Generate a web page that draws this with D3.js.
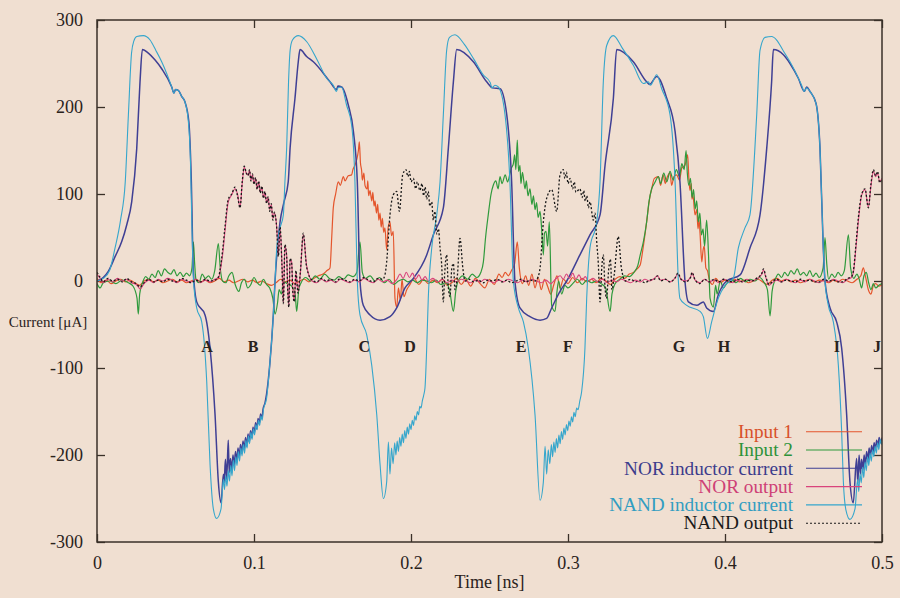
<!DOCTYPE html>
<html><head><meta charset="utf-8">
<script src="https://cdn.jsdelivr.net/npm/d3@7"></script>
<style>body{margin:0;background:#f0dfd1;}svg{display:block;}</style>
</head><body><div id="chart"></div>
<script>
// ---------- DATA (time in ns, current in µA) ----------
const xTicks = [0, 0.1, 0.2, 0.3, 0.4, 0.5];
const xTickLabels = ["0", "0.1", "0.2", "0.3", "0.4", "0.5"];
const yTicks = [-300, -200, -100, 0, 100, 200, 300];
const yTickLabels = ["-300", "-200", "-100", "0", "100", "200", "300"];
const seriesNames = ["Input 1", "Input 2", "NOR inductor current", "NOR output", "NAND inductor current", "NAND output"];
const eventLabels = ["A","B","C","D","E","F","G","H","I","J"];
const eventTimes = [0.0701,0.0994,0.1703,0.1994,0.2701,0.2999,0.3707,0.3994,0.4713,0.4968];
const eventLevel = -75;

const input1 = [[0,3],[0.003,-2],[0.006,1],[0.009,-3],[0.012,0],[0.015,2],[0.018,-1],[0.021,1],[0.024,-2],[0.027,-5],[0.03,0],[0.033,2],[0.036,-1],[0.039,1],[0.042,-2],[0.045,0],[0.048,2],[0.051,-1],[0.054,1],[0.057,-2],[0.06,0],[0.063,2],[0.066,-1],[0.069,1],[0.072,-2],[0.075,0],[0.078,3],[0.081,-1],[0.084,1],[0.087,-2],[0.09,0],[0.093,2],[0.096,-1],[0.099,1],[0.102,-2],[0.105,0],[0.108,-3],[0.111,-5],[0.114,-2],[0.117,2],[0.12,-1],[0.123,1],[0.126,-3],[0.129,0],[0.132,2],[0.135,-1],[0.138,3],[0.141,6],[0.144,8],[0.1465,12],[0.1484,15],[0.1495,50],[0.1505,84],[0.152,100],[0.1537,114],[0.155,110],[0.1569,120],[0.158,115],[0.16,121],[0.1622,122],[0.163,128],[0.1643,133],[0.1655,140],[0.1665,150],[0.1671,160],[0.1678,136],[0.1686,126],[0.169,116],[0.170,124],[0.1707,110],[0.172,106],[0.1725,115],[0.173,98],[0.1739,104],[0.175,92],[0.1757,102],[0.1765,86],[0.1771,92],[0.178,78],[0.1788,88],[0.1795,70],[0.1803,78],[0.181,62],[0.1818,72],[0.1826,56],[0.1834,61],[0.1845,36],[0.1855,62],[0.1866,68],[0.1876,52],[0.1887,57],[0.1898,-20],[0.1909,-30],[0.192,-8],[0.1932,-22],[0.1943,2],[0.1955,-18],[0.1973,-10],[0.199,-5],[0.202,3],[0.205,-4],[0.208,2],[0.211,-3],[0.214,1],[0.217,-2],[0.22,2],[0.223,-5],[0.226,-2],[0.229,3],[0.232,-4],[0.235,2],[0.238,-6],[0.241,3],[0.244,-3],[0.247,-8],[0.25,2],[0.253,-4],[0.256,8],[0.258,4],[0.26,10],[0.262,6],[0.264,12],[0.266,20],[0.2677,45],[0.269,15],[0.271,-3],[0.273,6],[0.275,-5],[0.277,8],[0.279,-8],[0.281,4],[0.283,-10],[0.285,2],[0.287,-6],[0.289,-15],[0.291,-4],[0.293,6],[0.295,-8],[0.297,2],[0.3,-3],[0.303,4],[0.306,-2],[0.309,3],[0.312,-1],[0.315,2],[0.318,-2],[0.321,3],[0.324,0],[0.327,-4],[0.330,2],[0.333,5],[0.336,3],[0.339,8],[0.342,10],[0.344,14],[0.3459,18],[0.348,40],[0.3501,68],[0.352,95],[0.3533,106],[0.355,118],[0.3576,120],[0.359,110],[0.3605,122],[0.362,112],[0.3629,118],[0.365,124],[0.366,110],[0.3675,120],[0.3692,122],[0.371,116],[0.3725,130],[0.3745,133],[0.3762,145],[0.377,118],[0.3777,104],[0.3785,112],[0.379,94],[0.3795,100],[0.3809,76],[0.382,82],[0.3828,60],[0.3835,70],[0.3841,55],[0.3852,22],[0.386,35],[0.3868,40],[0.3878,15],[0.3888,12],[0.390,2],[0.392,-4],[0.394,3],[0.397,-2],[0.40,1],[0.403,-2],[0.406,2],[0.409,-1],[0.412,1],[0.415,-2],[0.418,0],[0.421,2],[0.424,-1],[0.427,-4],[0.430,1],[0.433,3],[0.436,0],[0.439,2],[0.442,-1],[0.445,1],[0.448,-2],[0.451,0],[0.454,2],[0.457,-1],[0.46,1],[0.463,0],[0.466,-2],[0.469,1],[0.472,-1],[0.475,2],[0.478,0],[0.481,-2],[0.484,2],[0.4865,6],[0.4881,15],[0.4895,5],[0.4913,-10],[0.493,-15],[0.4945,-5],[0.496,-3],[0.498,-6],[0.5,-4]];

const input2 = [[0,-3],[0.002,-8],[0.004,-2],[0.008,0],[0.012,-3],[0.016,1],[0.02,-2],[0.023,-6],[0.0255,-20],[0.0263,-38],[0.0272,-15],[0.029,-2],[0.031,5],[0.033,2],[0.035,8],[0.037,4],[0.039,12],[0.041,6],[0.043,14],[0.045,10],[0.047,8],[0.049,13],[0.051,6],[0.053,10],[0.055,5],[0.057,9],[0.059,6],[0.0605,15],[0.0614,45],[0.0622,20],[0.063,2],[0.065,-2],[0.067,8],[0.069,3],[0.071,6],[0.073,2],[0.075,12],[0.0773,43],[0.0785,15],[0.080,0],[0.082,-2],[0.084,6],[0.086,10],[0.088,-4],[0.0904,-12],[0.092,-2],[0.094,2],[0.096,-8],[0.098,-4],[0.100,4],[0.102,-2],[0.104,-5],[0.106,2],[0.108,-4],[0.110,-8],[0.112,-20],[0.1134,-38],[0.115,-25],[0.116,-10],[0.1175,-15],[0.1187,0],[0.121,-3],[0.124,-6],[0.1262,-15],[0.1272,-35],[0.1285,-10],[0.130,-2],[0.133,4],[0.136,0],[0.139,6],[0.142,2],[0.145,8],[0.148,3],[0.151,1],[0.154,5],[0.157,2],[0.160,7],[0.163,5],[0.1655,10],[0.1675,45],[0.169,10],[0.171,3],[0.174,6],[0.177,0],[0.180,4],[0.183,-2],[0.186,2],[0.189,-4],[0.192,0],[0.195,2],[0.198,-1],[0.201,1],[0.204,-2],[0.207,1],[0.21,0],[0.213,-2],[0.216,1],[0.219,-4],[0.222,-2],[0.2245,-10],[0.227,-35],[0.2285,-12],[0.230,0],[0.233,6],[0.236,2],[0.239,8],[0.242,4],[0.2445,10],[0.2461,22],[0.2475,50],[0.2492,76],[0.251,100],[0.2524,110],[0.254,115],[0.2555,106],[0.2567,120],[0.258,112],[0.26,122],[0.2615,114],[0.2631,124],[0.264,130],[0.2652,135],[0.266,145],[0.2668,128],[0.2677,162],[0.2685,126],[0.2694,133],[0.270,112],[0.271,125],[0.2726,106],[0.2735,115],[0.2745,98],[0.2758,106],[0.277,88],[0.278,98],[0.279,82],[0.280,90],[0.281,73],[0.2822,80],[0.2832,60],[0.2843,30],[0.285,55],[0.286,57],[0.287,40],[0.2881,68],[0.2896,-28],[0.2917,-35],[0.293,-12],[0.294,0],[0.296,-15],[0.298,-5],[0.300,-8],[0.303,-3],[0.306,2],[0.309,-4],[0.312,1],[0.315,-2],[0.318,0],[0.321,-3],[0.324,-8],[0.3268,-35],[0.328,-15],[0.330,-3],[0.333,2],[0.336,6],[0.339,5],[0.342,10],[0.3445,18],[0.346,30],[0.348,45],[0.3501,68],[0.3515,90],[0.3533,106],[0.355,112],[0.3576,120],[0.359,112],[0.361,124],[0.3629,114],[0.365,126],[0.367,116],[0.369,128],[0.371,120],[0.3725,135],[0.374,128],[0.3752,150],[0.376,124],[0.377,110],[0.378,118],[0.379,96],[0.380,105],[0.381,83],[0.382,92],[0.383,68],[0.384,78],[0.385,53],[0.386,60],[0.387,40],[0.3883,70],[0.3895,30],[0.3905,-20],[0.3926,-30],[0.394,-5],[0.395,-15],[0.397,0],[0.399,-8],[0.401,-3],[0.404,2],[0.407,-2],[0.41,3],[0.413,-1],[0.416,2],[0.419,0],[0.422,4],[0.425,-2],[0.427,-10],[0.4287,-40],[0.430,-12],[0.432,2],[0.434,8],[0.436,4],[0.438,10],[0.440,6],[0.442,12],[0.444,8],[0.446,14],[0.448,7],[0.450,10],[0.452,6],[0.454,12],[0.456,5],[0.458,9],[0.46,4],[0.4625,15],[0.4637,50],[0.4648,20],[0.466,2],[0.468,8],[0.470,4],[0.472,10],[0.474,6],[0.476,12],[0.4786,53],[0.480,15],[0.482,3],[0.484,8],[0.4855,2],[0.487,-8],[0.4885,6],[0.490,10],[0.4915,-2],[0.493,-10],[0.4945,-3],[0.496,-8],[0.498,-5],[0.5,-3]];

const norInductor = [[0,0],[0.004,4],[0.0072,11],[0.0115,28],[0.0157,45],[0.019,65],[0.0221,91],[0.0253,152],[0.0274,229],[0.0289,266],[0.0327,262],[0.037,254],[0.0412,244],[0.0476,223],[0.049,216],[0.050,220],[0.0518,219],[0.054,212],[0.056,206],[0.0585,183],[0.06,120],[0.0614,10],[0.0635,-24],[0.0688,-39],[0.072,-77],[0.0752,-154],[0.0773,-231],[0.079,-255],[0.0805,-222],[0.081,-232],[0.0818,-205],[0.0826,-228],[0.0836,-183],[0.0842,-220],[0.085,-204],[0.0858,-218],[0.0866,-200],[0.0874,-212],[0.0882,-196],[0.089,-208],[0.0898,-192],[0.0906,-203],[0.0914,-188],[0.0922,-198],[0.093,-184],[0.0938,-194],[0.0946,-180],[0.0954,-190],[0.0962,-176],[0.097,-185],[0.0978,-172],[0.0986,-180],[0.0994,-168],[0.1002,-175],[0.101,-163],[0.1018,-170],[0.1026,-158],[0.1034,-164],[0.1042,-153],[0.105,-158],[0.1058,-147],[0.107,-140],[0.108,-130],[0.110,-97],[0.1123,-39],[0.1134,0],[0.1155,50],[0.1166,68],[0.119,90],[0.1218,114],[0.123,153],[0.1261,210],[0.1282,252],[0.1293,266],[0.1335,258],[0.1378,252],[0.1484,229],[0.1525,220],[0.1535,224],[0.1558,223],[0.1601,202],[0.1633,172],[0.1658,114],[0.1675,0],[0.1696,-28],[0.1739,-39],[0.1803,-45],[0.1866,-41],[0.1909,-31],[0.1962,-8],[0.2015,3],[0.21,30],[0.2142,53],[0.2206,84],[0.2238,153],[0.227,229],[0.2291,266],[0.2397,252],[0.2482,229],[0.252,222],[0.2567,221],[0.261,191],[0.2641,114],[0.2662,0],[0.2694,-31],[0.2758,-41],[0.2822,-45],[0.2864,-43],[0.2896,-31],[0.2949,-12],[0.2992,0],[0.3076,30],[0.314,53],[0.3204,76],[0.3236,133],[0.3289,210],[0.331,266],[0.3416,252],[0.3501,229],[0.352,226],[0.3565,235],[0.3629,210],[0.3682,172],[0.3713,114],[0.3745,0],[0.3767,-24],[0.382,-28],[0.3862,-24],[0.3883,-31],[0.3926,-35],[0.3957,-16],[0.401,0],[0.4096,7],[0.4159,38],[0.4223,76],[0.4266,153],[0.4297,229],[0.4308,266],[0.4372,260],[0.4414,250],[0.4467,233],[0.4505,218],[0.452,223],[0.4541,218],[0.458,204],[0.4605,153],[0.4626,38],[0.4637,0],[0.4669,-31],[0.4711,-47],[0.4743,-77],[0.4775,-154],[0.4796,-231],[0.4817,-255],[0.4838,-204],[0.4846,-232],[0.4854,-200],[0.4862,-222],[0.487,-205],[0.4878,-218],[0.4886,-200],[0.4894,-212],[0.4902,-196],[0.491,-207],[0.4918,-192],[0.4926,-202],[0.4934,-189],[0.4942,-198],[0.495,-186],[0.4958,-194],[0.4966,-183],[0.4974,-190],[0.4982,-180],[0.499,-186],[0.5,-180]];

const norOutput = [[0,8],[0.002,3],[0.004,-2],[0.007,2],[0.010,-1],[0.013,3],[0.016,0],[0.019,2],[0.022,-2],[0.025,-4],[0.0275,-9],[0.030,-3],[0.033,1],[0.036,-2],[0.039,2],[0.042,0],[0.045,3],[0.048,1],[0.051,-2],[0.054,2],[0.057,0],[0.060,-1],[0.063,2],[0.066,-2],[0.069,1],[0.072,-1],[0.075,2],[0.0775,4],[0.0783,10],[0.0800,30],[0.0815,57],[0.0836,91],[0.0858,99],[0.0879,106],[0.0895,100],[0.0911,85],[0.0925,112],[0.0938,131],[0.095,124],[0.0962,122],[0.0972,127],[0.098,116],[0.099,122],[0.1,112],[0.101,118],[0.102,106],[0.103,114],[0.104,102],[0.105,108],[0.106,96],[0.107,102],[0.108,90],[0.109,96],[0.110,82],[0.111,88],[0.112,72],[0.113,78],[0.1145,61],[0.1155,30],[0.1166,61],[0.1178,20],[0.1187,-24],[0.1197,40],[0.1208,30],[0.1215,-10],[0.1222,-28],[0.123,25],[0.124,22],[0.1247,-10],[0.1257,-22],[0.1267,10],[0.128,-12],[0.1295,8],[0.1314,53],[0.1335,18],[0.137,0],[0.140,-2],[0.143,2],[0.146,-1],[0.149,1],[0.152,-2],[0.155,2],[0.158,0],[0.161,-2],[0.164,1],[0.167,-1],[0.170,3],[0.173,0],[0.176,-2],[0.179,2],[0.182,-1],[0.185,1],[0.188,-3],[0.191,2],[0.193,8],[0.195,3],[0.197,10],[0.199,4],[0.201,9],[0.203,2],[0.205,7],[0.207,1],[0.209,5],[0.211,0],[0.214,3],[0.217,-1],[0.22,2],[0.223,-2],[0.226,1],[0.229,-1],[0.232,2],[0.235,0],[0.238,-2],[0.241,1],[0.244,-1],[0.247,2],[0.25,0],[0.253,-2],[0.256,1],[0.259,-1],[0.262,2],[0.265,0],[0.268,-2],[0.271,1],[0.274,-1],[0.277,2],[0.28,0],[0.283,-2],[0.286,1],[0.289,-3],[0.292,2],[0.295,6],[0.297,2],[0.299,8],[0.301,3],[0.303,9],[0.305,2],[0.307,7],[0.309,1],[0.311,5],[0.313,0],[0.316,3],[0.319,-1],[0.322,2],[0.325,-2],[0.328,1],[0.331,-1],[0.334,2],[0.337,0],[0.34,-2],[0.343,1],[0.346,-1],[0.349,2],[0.352,0],[0.355,3],[0.357,6],[0.359,1],[0.362,2],[0.365,-1],[0.368,3],[0.37,8],[0.372,2],[0.375,0],[0.378,4],[0.379,9],[0.381,1],[0.384,-2],[0.387,2],[0.39,-1],[0.393,1],[0.396,-2],[0.399,2],[0.402,0],[0.405,-2],[0.408,1],[0.411,-1],[0.414,2],[0.417,0],[0.42,2],[0.4235,8],[0.4245,13],[0.426,4],[0.428,-5],[0.430,-2],[0.433,1],[0.436,-1],[0.439,2],[0.442,0],[0.445,-2],[0.448,1],[0.451,-1],[0.454,2],[0.457,0],[0.46,-2],[0.463,1],[0.466,-1],[0.469,2],[0.472,0],[0.475,-2],[0.478,2],[0.4805,4],[0.4818,10],[0.4835,40],[0.4849,68],[0.4871,99],[0.4892,105],[0.4913,85],[0.493,110],[0.4945,126],[0.496,120],[0.4972,124],[0.4985,114],[0.5,118]];

const nandInductor = [[0,0],[0.004,3],[0.008,12],[0.0115,38],[0.015,70],[0.018,114],[0.020,191],[0.022,262],[0.0235,276],[0.0253,281],[0.0295,282],[0.0338,277],[0.0375,265],[0.0412,252],[0.0445,238],[0.0476,223],[0.049,216],[0.050,220],[0.0518,219],[0.054,212],[0.056,206],[0.0582,183],[0.0595,140],[0.0603,76],[0.0614,3],[0.0635,-31],[0.0667,-47],[0.0685,-75],[0.0699,-116],[0.072,-211],[0.0741,-262],[0.0762,-273],[0.079,-262],[0.0805,-228],[0.0812,-240],[0.082,-224],[0.0828,-236],[0.0836,-218],[0.0844,-230],[0.0852,-212],[0.086,-224],[0.0868,-206],[0.0876,-218],[0.0884,-202],[0.0892,-212],[0.090,-196],[0.0908,-207],[0.0916,-192],[0.0924,-201],[0.0932,-188],[0.094,-198],[0.0948,-183],[0.0956,-192],[0.0964,-178],[0.0972,-187],[0.098,-174],[0.0988,-182],[0.0996,-170],[0.1004,-177],[0.1012,-165],[0.102,-171],[0.1028,-160],[0.1036,-166],[0.1044,-155],[0.1052,-160],[0.106,-148],[0.108,-135],[0.110,-97],[0.1123,-39],[0.1134,0],[0.1145,38],[0.1166,61],[0.1187,76],[0.1197,114],[0.1208,153],[0.122,229],[0.123,265],[0.1245,277],[0.1282,282],[0.1336,275],[0.14,255],[0.1463,233],[0.1505,225],[0.1525,218],[0.1535,222],[0.1558,223],[0.159,202],[0.1622,179],[0.1643,114],[0.1658,0],[0.1675,-39],[0.1718,-62],[0.175,-97],[0.1782,-154],[0.1803,-211],[0.1824,-250],[0.1845,-231],[0.1856,-185],[0.1866,-222],[0.1876,-192],[0.1886,-210],[0.1896,-186],[0.1904,-200],[0.1912,-184],[0.192,-196],[0.1928,-180],[0.1936,-190],[0.1944,-176],[0.1952,-186],[0.196,-172],[0.1968,-181],[0.1976,-168],[0.1984,-176],[0.1992,-164],[0.2,-171],[0.2008,-160],[0.2016,-166],[0.2024,-155],[0.2032,-160],[0.204,-150],[0.2048,-154],[0.2056,-144],[0.2064,-146],[0.2072,-138],[0.208,-132],[0.2089,-123],[0.21,-77],[0.211,-20],[0.2132,38],[0.2164,76],[0.2185,114],[0.2206,191],[0.2227,265],[0.2245,280],[0.228,283],[0.234,272],[0.240,255],[0.246,237],[0.2505,228],[0.2515,222],[0.2535,225],[0.2556,223],[0.2599,191],[0.263,114],[0.2652,0],[0.2684,-31],[0.2716,-47],[0.2747,-77],[0.279,-154],[0.2822,-252],[0.2843,-231],[0.2854,-190],[0.2864,-222],[0.2874,-194],[0.2884,-210],[0.2894,-188],[0.2902,-202],[0.291,-185],[0.2918,-197],[0.2926,-181],[0.2934,-192],[0.2942,-177],[0.295,-187],[0.2958,-173],[0.2966,-182],[0.2974,-169],[0.2982,-177],[0.299,-165],[0.2998,-172],[0.3006,-161],[0.3014,-167],[0.3022,-156],[0.303,-162],[0.3038,-151],[0.3046,-156],[0.3055,-146],[0.3064,-148],[0.3075,-138],[0.3087,-127],[0.3108,-77],[0.3119,-20],[0.314,38],[0.3183,68],[0.3204,114],[0.3225,229],[0.3247,271],[0.3289,282],[0.3345,268],[0.3416,248],[0.348,227],[0.3512,229],[0.3525,225],[0.3565,237],[0.3597,221],[0.365,191],[0.3682,114],[0.3703,0],[0.3713,-20],[0.3756,-28],[0.3841,-35],[0.3862,-41],[0.3888,-66],[0.3915,-47],[0.3957,-20],[0.40,-5],[0.4053,3],[0.4085,38],[0.4127,61],[0.4159,76],[0.4202,191],[0.4223,265],[0.4255,280],[0.4297,281],[0.4329,277],[0.437,265],[0.4414,252],[0.4488,225],[0.4505,218],[0.452,222],[0.4541,218],[0.458,204],[0.4605,153],[0.4626,38],[0.4637,0],[0.4658,-28],[0.469,-47],[0.4722,-97],[0.4743,-173],[0.4754,-231],[0.477,-263],[0.4796,-274],[0.4828,-262],[0.4845,-228],[0.4852,-242],[0.486,-222],[0.4868,-232],[0.4876,-214],[0.4884,-226],[0.4892,-208],[0.49,-218],[0.4908,-202],[0.4916,-212],[0.4924,-198],[0.4932,-207],[0.494,-194],[0.4948,-202],[0.4956,-190],[0.4964,-198],[0.4972,-186],[0.498,-194],[0.4988,-182],[0.4996,-188],[0.5,-183]];

const nandOutput = [[0,10],[0.002,4],[0.004,-1],[0.007,3],[0.010,0],[0.013,2],[0.016,-1],[0.019,3],[0.022,-1],[0.025,-3],[0.0275,-7],[0.030,-2],[0.033,2],[0.036,-1],[0.039,1],[0.042,-1],[0.045,2],[0.048,0],[0.051,-1],[0.054,3],[0.057,1],[0.060,-2],[0.063,1],[0.066,-1],[0.069,2],[0.072,0],[0.075,1],[0.0775,5],[0.0783,12],[0.0800,35],[0.0815,62],[0.0836,94],[0.0858,100],[0.0879,108],[0.0895,98],[0.0911,84],[0.0925,114],[0.0938,132],[0.095,125],[0.0962,121],[0.0972,128],[0.098,115],[0.099,123],[0.1,111],[0.101,119],[0.102,105],[0.103,115],[0.104,101],[0.105,109],[0.106,95],[0.107,103],[0.108,89],[0.109,97],[0.110,80],[0.111,89],[0.112,70],[0.113,79],[0.1145,60],[0.1155,28],[0.1166,62],[0.1178,18],[0.1187,-26],[0.1197,42],[0.1208,28],[0.1215,-12],[0.1222,-30],[0.123,26],[0.124,20],[0.1247,-12],[0.1257,-24],[0.1267,12],[0.128,-14],[0.1295,10],[0.1314,55],[0.1335,16],[0.137,1],[0.140,-1],[0.143,3],[0.146,0],[0.149,2],[0.152,-1],[0.155,3],[0.158,1],[0.161,-1],[0.164,2],[0.167,0],[0.170,4],[0.173,1],[0.176,-1],[0.179,3],[0.182,2],[0.1835,8],[0.1845,22],[0.1866,76],[0.1887,99],[0.1909,103],[0.1926,80],[0.1947,122],[0.1968,128],[0.198,120],[0.199,126],[0.2,114],[0.2015,118],[0.203,106],[0.204,114],[0.2057,104],[0.207,112],[0.208,98],[0.209,108],[0.21,94],[0.211,103],[0.212,86],[0.2132,91],[0.2142,70],[0.2152,80],[0.2164,54],[0.2175,60],[0.2185,38],[0.2195,20],[0.2206,-24],[0.2215,10],[0.2227,30],[0.2237,-5],[0.2248,-18],[0.226,15],[0.227,20],[0.228,-10],[0.2295,5],[0.2312,49],[0.233,15],[0.2344,0],[0.237,2],[0.240,-1],[0.243,1],[0.246,-2],[0.249,1],[0.252,0],[0.255,2],[0.258,-1],[0.261,1],[0.264,-2],[0.267,0],[0.27,2],[0.273,-1],[0.276,1],[0.279,0],[0.281,5],[0.2822,15],[0.2843,68],[0.2864,95],[0.2896,105],[0.2928,80],[0.2949,122],[0.297,128],[0.298,118],[0.299,125],[0.3,112],[0.3013,118],[0.303,106],[0.304,114],[0.305,102],[0.3076,106],[0.309,96],[0.31,104],[0.311,92],[0.312,98],[0.313,84],[0.314,91],[0.3161,70],[0.3172,78],[0.3183,45],[0.3193,20],[0.3204,-24],[0.3215,15],[0.3225,30],[0.3235,-5],[0.3245,-20],[0.326,15],[0.327,25],[0.328,-10],[0.3295,8],[0.332,51],[0.334,15],[0.3366,0],[0.34,2],[0.343,-1],[0.346,1],[0.349,-2],[0.352,1],[0.355,2],[0.357,6],[0.359,0],[0.362,2],[0.365,-1],[0.368,3],[0.37,9],[0.372,2],[0.375,-1],[0.378,4],[0.379,10],[0.381,1],[0.384,-3],[0.387,2],[0.39,-1],[0.393,2],[0.396,-1],[0.399,2],[0.402,0],[0.405,-1],[0.408,2],[0.411,-1],[0.414,1],[0.417,0],[0.42,3],[0.4235,9],[0.4245,14],[0.426,5],[0.428,-4],[0.430,-1],[0.433,2],[0.436,-1],[0.439,1],[0.442,0],[0.445,-1],[0.448,2],[0.451,0],[0.454,1],[0.457,-1],[0.46,-1],[0.463,2],[0.466,0],[0.469,1],[0.472,-1],[0.475,-1],[0.478,3],[0.4805,5],[0.4818,12],[0.4835,44],[0.4849,72],[0.4871,100],[0.4892,106],[0.4913,84],[0.493,112],[0.4945,128],[0.496,121],[0.4972,126],[0.4985,113],[0.5,117]];

const seriesData = [input1, input2, norInductor, norOutput, nandInductor, nandOutput];

// ---------- STYLES ----------
const colors = ["#e4552c", "#2f9a3c", "#3f3f94", "#d9447c", "#35a6cc", "#1a1a1a"];
const widths = [1.2, 1.2, 1.5, 1.1, 1.1, 1.3];
const dashes = [null, null, null, null, null, "2,2"];

const W = 900, H = 598;
const m = {left: 97, right: 18, top: 20, bottom: 56};
const svg = d3.select("#chart").append("svg").attr("width", W).attr("height", H);
svg.append("rect").attr("width", W).attr("height", H).attr("fill", "#f0dfd1");

const x = d3.scaleLinear().domain([0, 0.5]).range([m.left, W - m.right]);
const y = d3.scaleLinear().domain([-300, 300]).range([H - m.bottom, m.top]);
const serif = "'Liberation Serif','Times New Roman',serif";
const axisCol = "#3a3028";

svg.append("clipPath").attr("id", "clip").append("rect")
  .attr("x", x(0)).attr("y", y(300)).attr("width", x(0.5) - x(0)).attr("height", y(-300) - y(300));

const tickLen = 8;
const axB = svg.append("g").attr("transform", `translate(0,${y(-300)})`)
  .call(d3.axisBottom(x).tickValues(xTicks).tickFormat((d,i)=>xTickLabels[i]).tickSizeInner(-tickLen).tickSizeOuter(0).tickPadding(14));
const axT = svg.append("g").attr("transform", `translate(0,${y(300)})`)
  .call(d3.axisTop(x).tickValues(xTicks).tickFormat("").tickSizeInner(-tickLen).tickSizeOuter(0));
const axL = svg.append("g").attr("transform", `translate(${x(0)},0)`)
  .call(d3.axisLeft(y).tickValues(yTicks).tickFormat((d,i)=>yTickLabels[i]).tickSizeInner(-tickLen).tickSizeOuter(0).tickPadding(14));
const axR = svg.append("g").attr("transform", `translate(${x(0.5)},0)`)
  .call(d3.axisRight(y).tickValues(yTicks).tickFormat("").tickSizeInner(-tickLen).tickSizeOuter(0));
[axB, axT, axL, axR].forEach(a => {
  a.select(".domain").remove();
  a.selectAll(".tick line").attr("stroke", axisCol).attr("stroke-width", 1.3);
  a.selectAll("text").attr("font-family", serif).attr("font-size", 18).attr("fill", "#2a221c");
});
axB.selectAll("text").attr("dy", "0.71em");

const line = d3.line().x(d => x(d[0])).y(d => y(d[1])).curve(d3.curveMonotoneX);
const g = svg.append("g").attr("clip-path", "url(#clip)");
seriesData.forEach((data, i) => {
  g.append("path").datum(data).attr("d", line).attr("fill", "none")
    .attr("stroke", colors[i]).attr("stroke-width", widths[i])
    .attr("stroke-linejoin", "round")
    .attr("stroke-dasharray", dashes[i]);
});

svg.append("rect").attr("x", x(0)).attr("y", y(300))
  .attr("width", x(0.5) - x(0)).attr("height", y(-300) - y(300))
  .attr("fill", "none").attr("stroke", axisCol).attr("stroke-width", 1.5);

svg.append("g").selectAll("text").data(eventLabels).join("text")
  .attr("x", (d,i) => x(eventTimes[i])).attr("y", y(eventLevel))
  .attr("text-anchor", "middle").attr("dominant-baseline", "central")
  .attr("font-family", serif).attr("font-size", 16).attr("font-weight", "bold")
  .attr("fill", "#2a221c").text(d => d);

svg.append("text").attr("x", 48).attr("y", y(-47)).attr("text-anchor", "middle")
  .attr("dominant-baseline", "central").attr("font-family", serif).attr("font-size", 15)
  .attr("fill", "#2a221c").text("Current [μA]");
svg.append("text").attr("x", (x(0) + x(0.5)) / 2).attr("y", 582).attr("text-anchor", "middle")
  .attr("dominant-baseline", "central").attr("font-family", serif).attr("font-size", 18)
  .attr("fill", "#2a221c").text("Time [ns]");

const lg = svg.append("g");
seriesNames.forEach((name, i) => {
  const yy = 431.7 + i * 18.3;
  lg.append("text").attr("transform", `translate(793,${yy}) scale(1.07,1)`)
    .attr("text-anchor", "end")
    .attr("dominant-baseline", "central").attr("font-family", serif).attr("font-size", 18)
    .attr("fill", colors[i] === "#1a1a1a" ? "#1a1a1a" : d3.color(colors[i]).darker(0.15))
    .text(name);
  lg.append("line").attr("x1", 806).attr("x2", 862).attr("y1", yy).attr("y2", yy)
    .attr("stroke", colors[i]).attr("stroke-width", 1.1).attr("stroke-dasharray", dashes[i]);
});
</script></body></html>
